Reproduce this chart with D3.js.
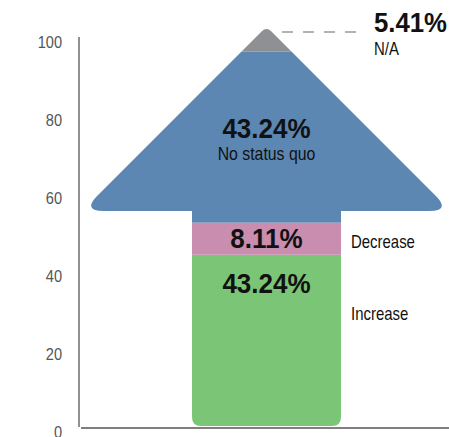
<!DOCTYPE html>
<html lang="en">
  <head>
    <meta charset='utf-8'>
    <script src='https://d3js.org/d3.v7.min.js'></script>
    <title>Arrow chart</title>
    <style>
      body {
        margin: 0px;
        background: #fff;
      }
      text {
        font-family: 'Liberation Sans', Arial, sans-serif;
      }
      .tick text {
        fill: #555;
        font-size: 17px;
      }
      .pct {
        font-weight: bold;
        fill: #111;
      }
      .lbl {
        fill: #111;
        font-size: 18px;
      }
    </style>
  </head>
  <body>
    <svg id='chart' width='449' height='437'></svg>
    <script>
      // segments, bottom to top
      const categories = ['Increase', 'Decrease', 'No status quo', 'N/A'];
      const values = [43.24, 8.11, 43.24, 5.41];
      const colors = ['#7bc576', '#c88daf', '#5b87b2', '#8f9094'];
      const tickValues = [0, 20, 40, 60, 80, 100];

      const width = 449;
      const height = 437;
      const svg = d3.select('#chart');

      // axis labels sit on their own scale, arrow on another
      const axisScale = d3.scaleLinear().domain([0, 100]).range([432, 42]);
      const yScale = d3.scaleLinear().domain([0, 100]).range([426, 30]);

      const cx = 266.5;
      const shaftHalf = 74.5;
      const headBase = 54.3;   // value where the head starts
      const tipY = 26.5;       // sharp tip, before rounding

      // stack the values
      let acc = 0;
      const data = values.map((v, i) => {
        const d = { name: categories[i], value: v, y0: acc, y1: acc + v, color: colors[i] };
        acc += v;
        return d;
      });

      // squeeze Liberation Sans to look like a condensed face
      function addText(cls, x, y, str, size, k, anchor) {
        return svg.append('text')
          .attr('class', cls)
          .attr('transform', `translate(${x},${y}) scale(${k},1)`)
          .attr('text-anchor', anchor || 'start')
          .style('font-size', size + 'px')
          .text(str);
      }

      // y axis
      const tickK = 0.86;
      const yAxisG = svg.append('g')
        .attr('transform', 'translate(79,0)')
        .call(d3.axisLeft(axisScale).tickValues(tickValues).tickSize(0));
      yAxisG.select('.domain').remove();
      yAxisG.selectAll('.tick text')
        .attr('x', -17 / tickK)
        .attr('transform', `scale(${tickK},1)`);

      svg.append('line')
        .attr('x1', 79).attr('x2', 79)
        .attr('y1', 37).attr('y2', 427)
        .attr('stroke', '#555').attr('stroke-width', 1.3);
      svg.append('line')
        .attr('x1', 81).attr('x2', width)
        .attr('y1', 428).attr('y2', 428)
        .attr('stroke', '#555').attr('stroke-width', 1.3);

      // arrow outline
      const baseY = yScale(headBase);
      const bottomY = yScale(0);
      const H = baseY - tipY;
      const r = 9;   // shaft bottom corners
      const d = 22;  // head corners
      const t = 7;   // tip
      const sl = cx - shaftHalf, sr = cx + shaftHalf;
      const hl = cx - H, hr = cx + H;
      const k = Math.SQRT1_2;
      const p = d3.path();
      p.moveTo(sl, baseY);
      p.lineTo(sl, bottomY - r);
      p.quadraticCurveTo(sl, bottomY, sl + r, bottomY);
      p.lineTo(sr - r, bottomY);
      p.quadraticCurveTo(sr, bottomY, sr, bottomY - r);
      p.lineTo(sr, baseY);
      p.lineTo(hr - d, baseY);
      p.quadraticCurveTo(hr, baseY, hr - d * k, baseY - d * k);
      p.lineTo(cx + t * k, tipY + t * k);
      p.quadraticCurveTo(cx, tipY, cx - t * k, tipY + t * k);
      p.lineTo(hl + d * k, baseY - d * k);
      p.quadraticCurveTo(hl, baseY, hl + d, baseY);
      p.closePath();

      svg.append('clipPath').attr('id', 'arrowClip')
        .append('path').attr('d', p.toString());

      svg.append('g')
        .attr('clip-path', 'url(#arrowClip)')
        .selectAll('rect')
        .data(data)
        .join('rect')
          .attr('x', 0)
          .attr('width', width)
          .attr('y', s => s.name === 'N/A' ? 0 : yScale(s.y1))
          .attr('height', s => (s.name === 'N/A' ? yScale(s.y0) : yScale(s.y0) - yScale(s.y1)))
          .attr('fill', s => s.color);

      const fmt = v => v.toFixed(2) + '%';

      // No status quo
      addText('pct', cx, 138, fmt(data[2].value), 28, 0.93, 'middle');
      addText('lbl', cx, 160, data[2].name, 18, 0.88, 'middle');

      // Decrease
      addText('pct', cx, 248, fmt(data[1].value), 28, 0.93, 'middle');
      addText('lbl', 351, 248, data[1].name, 18, 0.83);

      // Increase
      addText('pct', cx, 293, fmt(data[0].value), 28, 0.93, 'middle');
      addText('lbl', 351, 320, data[0].name, 18, 0.83);

      // N/A callout
      svg.append('line')
        .attr('x1', 282).attr('x2', 358)
        .attr('y1', 32).attr('y2', 32)
        .attr('stroke', '#666').attr('stroke-width', 1.2)
        .attr('stroke-dasharray', '11,10');
      addText('pct', 374, 32, fmt(data[3].value), 28, 0.92);
      addText('lbl', 374, 55, data[3].name, 18, 0.83);
    </script>
  </body>
</html>
